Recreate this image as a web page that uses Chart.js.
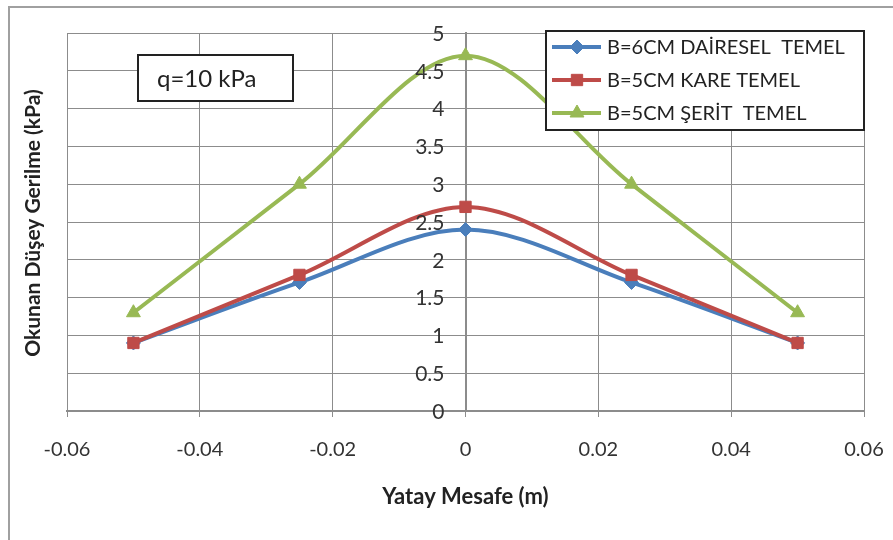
<!DOCTYPE html>
<html>
<head>
<meta charset="utf-8">
<script src="https://cdn.jsdelivr.net/npm/chart.js@4/dist/chart.umd.min.js"></script>
<style>
  html, body { margin: 0; padding: 0; background: #fff; }
  #wrap { width: 893px; height: 540px; position: relative; }
</style>
</head>
<body>
<div id="wrap"><canvas id="chart"></canvas></div>
<script>
const xValues = [-0.05, -0.025, 0, 0.025, 0.05];
const daireselValues = [0.9, 1.7, 2.4, 1.7, 0.9];
const kareValues = [0.9, 1.8, 2.7, 1.8, 0.9];
const seritValues = [1.3, 3.0, 4.7, 3.0, 1.3];
const seriesLabels = ['B=6CM DAİRESEL  TEMEL', 'B=5CM KARE TEMEL', 'B=5CM ŞERİT  TEMEL'];
const xTicks = [-0.06, -0.04, -0.02, 0, 0.02, 0.04, 0.06];
const yTicks = [0, 0.5, 1, 1.5, 2, 2.5, 3, 3.5, 4, 4.5, 5];

const FONT = 'Lato, "Open Sans", sans-serif';
const colors = ['#4a7ebb', '#be4b48', '#98b954'];
const styles = ['rectRot', 'rect', 'triangle'];
const radii = [7, 8, 8];

function pts(vals) {
  return xValues.map((x, i) => ({ x: x, y: vals[i] }));
}

// extra drawing: frame, tick labels, axis titles, q box, legend
const decor = {
  id: 'decor',
  beforeDraw(chart) {
    const c = chart.ctx;
    c.save();
    c.fillStyle = '#fff';
    c.fillRect(0, 0, chart.width, chart.height);
    c.strokeStyle = '#a0a0a0';
    c.lineWidth = 2;
    c.beginPath();
    c.moveTo(9, 545);
    c.lineTo(9, 7);
    c.lineTo(900, 7);
    c.stroke();
    c.restore();
  },
  afterDraw(chart) {
    const c = chart.ctx;
    const xs = chart.scales.x, ys = chart.scales.y;
    const bottom = chart.chartArea.bottom;

    c.save();
    c.fillStyle = '#333';
    c.textBaseline = 'middle';
    // y tick labels, left of the centre axis
    c.font = '21px ' + FONT;
    c.textAlign = 'right';
    const ax = xs.getPixelForValue(0);
    yTicks.forEach(v => {
      c.fillText(String(v), ax - 21, ys.getPixelForValue(v) + 1);
    });
    // x tick labels
    c.font = '20px ' + FONT;
    c.textAlign = 'center';
    xTicks.forEach(v => {
      c.fillText(String(v), xs.getPixelForValue(v), bottom + 39);
    });
    // x title
    c.fillStyle = '#222';
    c.font = 'bold 22px ' + FONT;
    c.fillText('Yatay Mesafe (m)', (chart.chartArea.left + chart.chartArea.right) / 2, bottom + 86);
    c.restore();

    // y axis title
    c.save();
    c.translate(33, 223);
    c.rotate(-Math.PI / 2);
    c.fillStyle = '#222';
    c.font = 'bold 21px ' + FONT;
    c.textAlign = 'center';
    c.textBaseline = 'middle';
    c.fillText('Okunan Düşey Gerilme (kPa)', 0, 0);
    c.restore();

    // q box
    c.save();
    c.fillStyle = '#fff';
    c.fillRect(138, 55, 155, 46);
    c.strokeStyle = '#222';
    c.lineWidth = 2;
    c.strokeRect(138, 55, 155, 46);
    c.fillStyle = '#222';
    c.font = '24px ' + FONT;
    c.textBaseline = 'middle';
    c.fillText('q=10 kPa', 157, 79);
    c.restore();

    // legend
    c.save();
    c.fillStyle = '#fff';
    c.fillRect(546, 31, 318, 99);
    c.strokeStyle = '#222';
    c.lineWidth = 2;
    c.strokeRect(546, 31, 318, 99);
    chart.data.datasets.forEach((ds, i) => {
      const y = 47 + i * 33;
      c.strokeStyle = ds.borderColor;
      c.lineWidth = 4;
      c.beginPath();
      c.moveTo(552, y);
      c.lineTo(601, y);
      c.stroke();
      c.fillStyle = ds.borderColor;
      c.lineWidth = 1;
      Chart.helpers.drawPoint(c, {
        pointStyle: ds.pointStyle, radius: ds.pointRadius, borderWidth: 1
      }, 577, y);
      c.fillStyle = '#222';
      c.font = '20px ' + FONT;
      c.textBaseline = 'middle';
      c.fillText(ds.label, 607, y + 1);
    });
    c.restore();
  }
};

const datasets = [daireselValues, kareValues, seritValues].map((vals, i) => ({
  label: seriesLabels[i],
  data: pts(vals),
  borderColor: colors[i],
  backgroundColor: colors[i],
  borderWidth: 4,
  pointStyle: styles[i],
  pointRadius: radii[i],
  pointBorderWidth: 1,
  tension: 0.33,
  order: 3 - i
}));

new Chart(document.getElementById('chart'), {
  type: 'line',
  data: { datasets: datasets },
  options: {
    responsive: true,
    maintainAspectRatio: false,
    animation: false,
    layout: { padding: { left: 67, right: 29, top: 33, bottom: 123 } },
    plugins: { legend: { display: false }, tooltip: { enabled: false } },
    scales: {
      x: {
        type: 'linear',
        min: -0.06, max: 0.06,
        afterBuildTicks: s => { s.ticks = xTicks.map(v => ({ value: v })); },
        ticks: { display: false },
        grid: { color: '#8c8c8c', lineWidth: 1, tickLength: 6, tickColor: '#8c8c8c' },
        border: { color: '#8c8c8c', width: 2 }
      },
      y: {
        type: 'linear',
        position: { x: 0 },
        min: 0, max: 5,
        afterBuildTicks: s => { s.ticks = yTicks.map(v => ({ value: v })); },
        ticks: { display: false },
        grid: { color: '#8c8c8c', lineWidth: 1, tickLength: 6, tickColor: '#8c8c8c' },
        border: { color: '#8c8c8c', width: 2 }
      }
    }
  },
  plugins: [decor]
});
</script>
</body>
</html>
